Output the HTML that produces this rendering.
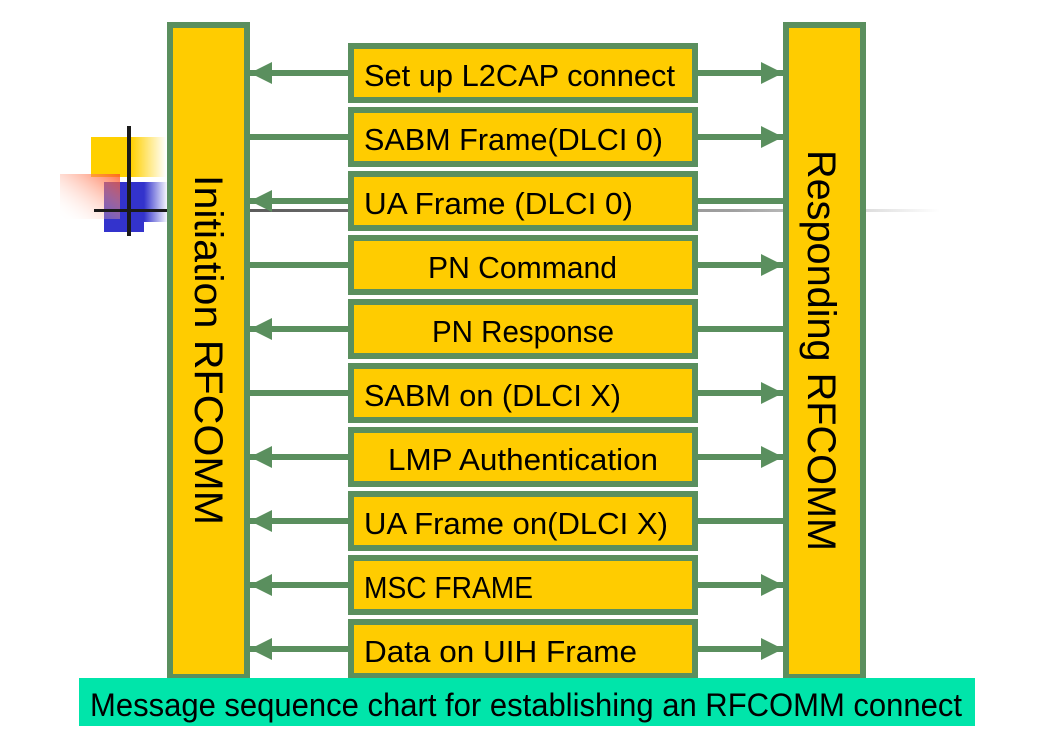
<!DOCTYPE html>
<html><head><style>html,body{margin:0;padding:0;background:#fff;}svg{display:block}</style></head>
<body>
<svg width="1052" height="752" viewBox="0 0 1052 752" xmlns="http://www.w3.org/2000/svg" font-family="'Liberation Sans', 'DejaVu Sans', sans-serif">
<defs>
<linearGradient id="gl" x1="0" x2="1"><stop offset="0" stop-color="#333"/><stop offset="0.7" stop-color="#888"/><stop offset="1" stop-color="#fff"/></linearGradient>
<linearGradient id="gy" x1="0" x2="1"><stop offset="0" stop-color="#ffd000"/><stop offset="1" stop-color="#fff"/></linearGradient>
<linearGradient id="gb" x1="0" x2="1"><stop offset="0" stop-color="#3333cc"/><stop offset="1" stop-color="#fff"/></linearGradient>
<linearGradient id="gr" x1="1" x2="0" y1="0" y2="1"><stop offset="0" stop-color="#ff5020"/><stop offset="1" stop-color="#fff" stop-opacity="0"/></linearGradient>
</defs>
<rect x="91" y="137" width="40" height="40" fill="#ffd000"/>
<rect x="131" y="137" width="35" height="40" fill="url(#gy)"/>
<rect x="104" y="182" width="40" height="50" fill="#3333cc"/>
<rect x="144" y="182" width="24" height="40" fill="url(#gb)"/>
<rect x="60" y="174" width="60" height="45" fill="url(#gr)" opacity="0.8"/>
<rect x="127" y="126" width="4" height="110" fill="#1a1a1a"/>
<rect x="94" y="209" width="74" height="3" fill="#1a1a1a"/>
<rect x="250" y="209" width="690" height="3" fill="url(#gl)" opacity="0.8"/>
<rect x="170" y="25" width="77" height="652" fill="#ffcc00" stroke="#5a8f5e" stroke-width="6"/>
<rect x="786" y="25" width="77" height="652" fill="#ffcc00" stroke="#5a8f5e" stroke-width="6"/>
<text transform="translate(195,175) rotate(90)" font-size="40" textLength="350" lengthAdjust="spacingAndGlyphs">Initiation RFCOMM</text>
<text transform="translate(808,150) rotate(90)" font-size="40" textLength="401" lengthAdjust="spacingAndGlyphs">Responding RFCOMM</text>
<g fill="#5a8f5e">
<rect x="250" y="70" width="98" height="6"/><rect x="250" y="134" width="98" height="6"/><rect x="250" y="198" width="98" height="6"/><rect x="250" y="262" width="98" height="6"/><rect x="250" y="326" width="98" height="6"/><rect x="250" y="390" width="98" height="6"/><rect x="250" y="454" width="98" height="6"/><rect x="250" y="518" width="98" height="6"/><rect x="250" y="582" width="98" height="6"/><rect x="250" y="646" width="98" height="6"/>
<rect x="698" y="70" width="86" height="6"/><rect x="698" y="134" width="86" height="6"/><rect x="698" y="198" width="86" height="6"/><rect x="698" y="262" width="86" height="6"/><rect x="698" y="326" width="86" height="6"/><rect x="698" y="390" width="86" height="6"/><rect x="698" y="454" width="86" height="6"/><rect x="698" y="518" width="86" height="6"/><rect x="698" y="582" width="86" height="6"/><rect x="698" y="646" width="86" height="6"/>
<polygon points="250,73 272,62 272,84"/>
<polygon points="250,201 272,190 272,212"/>
<polygon points="250,329 272,318 272,340"/>
<polygon points="250,457 272,446 272,468"/>
<polygon points="250,521 272,510 272,532"/>
<polygon points="250,585 272,574 272,596"/>
<polygon points="250,649 272,638 272,660"/>
<polygon points="783,73 761,62 761,84"/>
<polygon points="783,137 761,126 761,148"/>
<polygon points="783,265 761,254 761,276"/>
<polygon points="783,393 761,382 761,404"/>
<polygon points="783,457 761,446 761,468"/>
<polygon points="783,585 761,574 761,596"/>
<polygon points="783,649 761,638 761,660"/>
</g>
<g fill="#ffcc00" stroke="#5a8f5e" stroke-width="6">
<rect x="351" y="46" width="344" height="54"/><rect x="351" y="110" width="344" height="54"/><rect x="351" y="174" width="344" height="54"/><rect x="351" y="238" width="344" height="54"/><rect x="351" y="302" width="344" height="54"/><rect x="351" y="366" width="344" height="54"/><rect x="351" y="430" width="344" height="54"/><rect x="351" y="494" width="344" height="54"/><rect x="351" y="558" width="344" height="54"/><rect x="351" y="622" width="344" height="54"/>
</g>
<g font-size="31" fill="#000">
<text x="364" y="86" textLength="311" lengthAdjust="spacingAndGlyphs">Set up L2CAP connect</text>
<text x="364" y="150" textLength="299" lengthAdjust="spacingAndGlyphs">SABM Frame(DLCI 0)</text>
<text x="364" y="214" textLength="269" lengthAdjust="spacingAndGlyphs">UA Frame (DLCI 0)</text>
<text x="428" y="278" textLength="189" lengthAdjust="spacingAndGlyphs">PN Command</text>
<text x="432" y="342" textLength="182" lengthAdjust="spacingAndGlyphs">PN Response</text>
<text x="364" y="406" textLength="257" lengthAdjust="spacingAndGlyphs">SABM on (DLCI X)</text>
<text x="388" y="470" textLength="270" lengthAdjust="spacingAndGlyphs">LMP Authentication</text>
<text x="364" y="534" textLength="304" lengthAdjust="spacingAndGlyphs">UA Frame on(DLCI X)</text>
<text x="364" y="598" textLength="169" lengthAdjust="spacingAndGlyphs">MSC FRAME</text>
<text x="364" y="662" textLength="273" lengthAdjust="spacingAndGlyphs">Data on UIH Frame</text>
</g>
<rect x="79" y="678" width="896" height="48" fill="#00e5aa"/>
<text x="90" y="716" font-size="32" textLength="872" lengthAdjust="spacingAndGlyphs">Message sequence chart for establishing an RFCOMM connect</text>
</svg>
</body></html>
